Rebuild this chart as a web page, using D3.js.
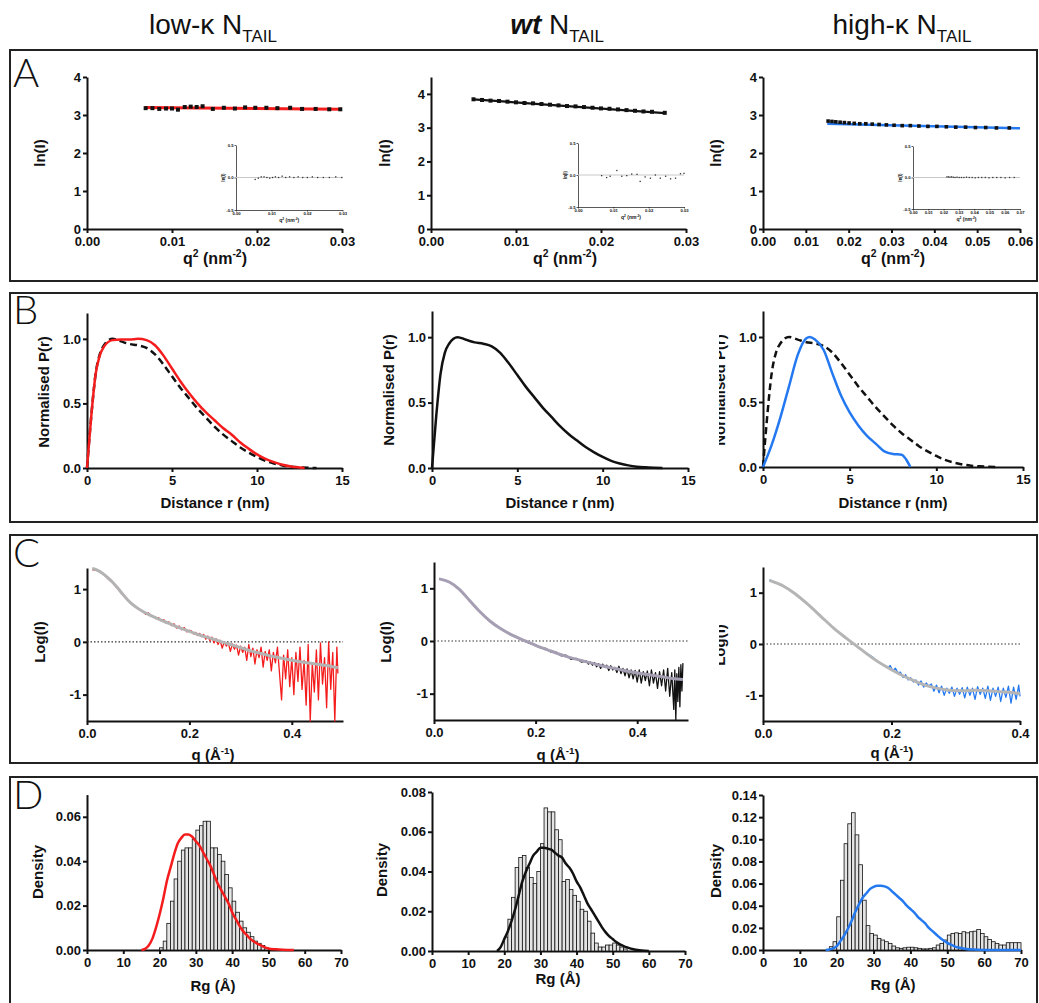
<!DOCTYPE html>
<html>
<head>
<meta charset="utf-8">
<script src="https://cdn.jsdelivr.net/npm/d3@7"></script>
<style>
  body { margin: 0; background: #fff; }
</style>
</head>
<body>
<svg id="fig" width="1039" height="1003"></svg>
<script>
'use strict';

// ---- column titles
var titles = [
  {pre: "low-κ N", it: false},
  {pre: "wt", it: true},
  {pre: "high-κ N", it: false}
];

// ---- row A : Guinier plots  (q^2, ln I)
var a1Q  = [0.0069,0.0077,0.0085,0.0093,0.0100,0.0107,0.0115,0.0122,0.0129,0.0136,0.0148,0.0161,0.0174,0.0186,0.0198,0.0211,0.0224,0.0239,0.0253,0.0269,0.0285,0.0298];
var a1Ln = [3.18,3.18,3.16,3.17,3.17,3.14,3.21,3.22,3.21,3.23,3.16,3.19,3.17,3.20,3.19,3.19,3.18,3.19,3.16,3.16,3.15,3.15];
var a1Fit = [[0.0068,3.20],[0.030,3.15]];
var a1ResQ = [0.0054,0.0063,0.0071,0.0079,0.0087,0.0095,0.0103,0.0111,0.0120,0.0130,0.0140,0.0151,0.0163,0.0175,0.0188,0.0201,0.0215,0.0230,0.0246,0.0263,0.0281,0.0298];
var a1Res  = [-0.03,-0.01,0.01,0.01,0.0,-0.01,0.0,0.01,0.0,0.02,0.0,0.01,0.0,0.01,0.0,0.0,0.01,0.0,0.0,0.0,0.01,0.0];

var a2Q  = [0.005,0.006,0.007,0.008,0.009,0.010,0.011,0.012,0.013,0.014,0.015,0.016,0.017,0.018,0.019,0.020,0.021,0.022,0.023,0.024,0.025,0.026,0.0275];
var a2Ln = [3.84,3.82,3.80,3.79,3.77,3.75,3.73,3.72,3.70,3.68,3.66,3.64,3.63,3.61,3.59,3.57,3.56,3.54,3.52,3.50,3.48,3.47,3.44];
var a2Fit = [[0.005,3.84],[0.0275,3.43]];
var a2ResQ = [0.0067,0.0081,0.0091,0.0110,0.0124,0.0138,0.0152,0.0167,0.0176,0.0190,0.0205,0.0219,0.0233,0.0248,0.0262,0.0276,0.0290,0.0300];
var a2Res  = [-0.01,-0.04,-0.02,0.07,-0.02,-0.01,0.015,0.01,-0.10,-0.03,-0.05,0.0,-0.05,-0.02,-0.06,-0.05,0.02,0.025];

var a3Q  = [0.0152,0.0161,0.0170,0.0180,0.0190,0.0201,0.0213,0.0226,0.0240,0.0255,0.0271,0.0288,0.0306,0.0325,0.0344,0.0364,0.0385,0.0406,0.0428,0.0450,0.0473,0.0496,0.0520,0.0545,0.0575];
var a3Ln = [2.84,2.83,2.82,2.81,2.80,2.79,2.78,2.77,2.77,2.76,2.75,2.74,2.73,2.72,2.72,2.71,2.70,2.70,2.69,2.68,2.68,2.67,2.67,2.66,2.66];
var a3Fit = [[0.015,2.77],[0.060,2.65]];
var a3ResQ = [0.0222,0.0232,0.0242,0.0252,0.0263,0.0275,0.0288,0.0302,0.0317,0.0333,0.0350,0.0368,0.0387,0.0407,0.0428,0.0450,0.0473,0.0497,0.0522,0.0548,0.0575,0.0603,0.0632,0.0662];
var a3Res  = [0.01,0.01,0.005,0.01,0.005,0.0,0.005,0.0,0.0,0.0,0.005,0.0,0.0,-0.005,0.0,0.0,0.0,-0.005,0.0,0.0,0.0,-0.005,0.0,0.0];

// ---- row B : normalised P(r)  (r nm, P)
var prWt = [[0,0],[0.25,0.40],[0.5,0.72],[0.75,0.88],[1,0.95],[1.5,1.0],[2,0.98],[2.5,0.96],[3,0.95],[3.5,0.93],[4,0.88],[4.5,0.80],[5,0.71],[5.5,0.62],[6,0.54],[6.5,0.46],[7,0.39],[7.5,0.32],[8,0.26],[8.5,0.21],[9,0.16],[9.5,0.12],[10,0.085],[10.5,0.055],[11,0.035],[11.5,0.02],[12,0.01],[12.5,0.005],[13,0.002],[13.5,0]];
var prLow = [[0,0],[0.25,0.40],[0.5,0.72],[0.75,0.87],[1,0.94],[1.5,0.99],[2,0.995],[2.5,0.995],[3,1.0],[3.5,0.99],[4,0.95],[4.5,0.87],[5,0.77],[5.5,0.67],[6,0.58],[6.5,0.50],[7,0.43],[7.5,0.37],[8,0.31],[8.5,0.26],[9,0.20],[9.5,0.15],[10,0.105],[10.5,0.07],[11,0.045],[11.5,0.025],[12,0.012],[12.5,0.004],[12.8,0]];
var prHigh = [[0,0],[0.5,0.17],[1,0.38],[1.5,0.62],[2,0.86],[2.5,0.99],[2.7,1.0],[3,0.98],[3.5,0.90],[4,0.72],[4.5,0.55],[5,0.42],[5.5,0.32],[6,0.24],[6.5,0.18],[7,0.12],[7.5,0.10],[8,0.095],[8.25,0.06],[8.5,0]];

// ---- row C : scattering curves (q 1/A, log I) and model fits
var c1Data = [[0.010,1.37],[0.020,1.35],[0.030,1.30],[0.040,1.21],[0.050,1.12],[0.060,1.01],[0.070,0.91],[0.080,0.80],[0.090,0.71],[0.100,0.63],
  [0.105,0.61],[0.110,0.57],[0.115,0.52],[0.120,0.55],[0.125,0.50],[0.130,0.48],[0.135,0.44],[0.140,0.46],[0.145,0.40],[0.150,0.42],
  [0.155,0.35],[0.160,0.38],[0.165,0.31],[0.170,0.34],[0.175,0.26],[0.180,0.30],[0.185,0.23],[0.190,0.27],[0.195,0.19],[0.200,0.22],
  [0.204,0.21],[0.208,0.15],[0.212,0.18],[0.216,0.12],[0.220,0.16],[0.224,0.10],[0.228,0.14],[0.232,0.05],[0.236,0.11],[0.240,0.02],
  [0.244,0.09],[0.248,-0.02],[0.252,0.06],[0.256,-0.05],[0.260,0.03],[0.264,-0.12],[0.268,0.00],[0.272,-0.08],[0.276,-0.02],[0.280,-0.18],
  [0.284,-0.04],[0.288,-0.14],[0.292,-0.06],[0.296,-0.25],[0.300,-0.08],[0.304,-0.20],[0.308,-0.10],[0.312,-0.35],[0.316,-0.05],[0.320,-0.28],
  [0.324,-0.12],[0.328,-0.42],[0.332,-0.15],[0.336,-0.30],[0.340,-0.10],[0.344,-0.48],[0.348,-0.18],[0.352,-0.35],[0.356,-0.15],[0.360,-0.55],
  [0.364,-0.20],[0.368,-0.40],[0.372,-0.10],[0.376,-0.60],[0.380,-1.10],[0.384,-0.25],[0.388,-0.70],[0.392,-0.15],[0.396,-0.85],[0.400,-0.30],
  [0.404,-1.00],[0.408,-0.20],[0.412,-0.75],[0.416,-0.10],[0.420,-0.90],[0.424,-0.35],[0.428,-1.20],[0.432,-0.05],[0.436,-1.50],[0.440,-0.40],
  [0.444,-0.95],[0.448,-0.15],[0.452,-1.10],[0.456,-0.02],[0.460,-0.80],[0.464,-0.30],[0.468,-1.25],[0.472,0.00],[0.476,-0.90],[0.480,-0.20],
  [0.484,-1.50],[0.488,-0.10],[0.490,-0.60]];
var c1Fit = [[0.01,1.39],[0.02,1.36],[0.03,1.30],[0.04,1.22],[0.05,1.13],[0.06,1.02],[0.07,0.90],[0.08,0.79],[0.09,0.70],[0.10,0.63],[0.12,0.52],[0.14,0.43],[0.16,0.35],[0.18,0.27],[0.20,0.20],[0.22,0.13],[0.24,0.07],[0.26,0.01],[0.28,-0.05],[0.30,-0.11],[0.32,-0.17],[0.34,-0.22],[0.36,-0.27],[0.38,-0.31],[0.40,-0.35],[0.42,-0.38],[0.44,-0.41],[0.46,-0.44],[0.48,-0.47],[0.49,-0.49]];

var c2Data = [[0.01,1.18],[0.02,1.16],[0.03,1.12],[0.04,1.06],[0.05,0.98],[0.06,0.88],[0.07,0.77],[0.08,0.66],[0.09,0.56],[0.10,0.47],
  [0.11,0.38],[0.12,0.31],[0.13,0.24],[0.14,0.18],[0.15,0.13],[0.16,0.08],[0.17,0.04],[0.18,-0.01],[0.19,-0.05],[0.20,-0.07],
  [0.21,-0.13],[0.22,-0.14],[0.23,-0.21],[0.24,-0.21],[0.25,-0.28],[0.26,-0.27],[0.27,-0.35],[0.28,-0.33],[0.29,-0.40],[0.30,-0.38],
  [0.304,-0.44],[0.308,-0.40],[0.312,-0.46],[0.316,-0.41],[0.320,-0.49],[0.324,-0.43],[0.328,-0.52],[0.332,-0.44],[0.336,-0.50],[0.340,-0.46],
  [0.344,-0.56],[0.348,-0.47],[0.352,-0.55],[0.356,-0.50],[0.360,-0.60],[0.364,-0.48],[0.368,-0.62],[0.372,-0.52],[0.376,-0.66],[0.380,-0.53],
  [0.384,-0.70],[0.388,-0.55],[0.392,-0.72],[0.396,-0.56],[0.400,-0.78],[0.404,-0.55],[0.408,-0.80],[0.412,-0.58],[0.416,-0.75],[0.420,-0.57],
  [0.424,-0.85],[0.428,-0.55],[0.432,-0.80],[0.436,-0.60],[0.440,-0.90],[0.444,-0.58],[0.448,-0.85],[0.452,-0.55],[0.456,-0.95],[0.460,-0.52],
  [0.464,-1.05],[0.468,-0.60],[0.472,-1.30],[0.474,-0.55],[0.476,-1.50],[0.478,-0.62],[0.480,-1.15],[0.482,-0.50],[0.484,-1.25],[0.486,-0.45],
  [0.488,-0.95],[0.490,-0.42]];
var c2Fit = [[0.01,1.18],[0.03,1.12],[0.05,0.98],[0.07,0.77],[0.09,0.56],[0.11,0.38],[0.13,0.24],[0.15,0.13],[0.17,0.04],[0.19,-0.04],[0.21,-0.12],[0.23,-0.19],[0.25,-0.26],[0.27,-0.32],[0.29,-0.37],[0.31,-0.42],[0.33,-0.47],[0.35,-0.51],[0.37,-0.55],[0.39,-0.59],[0.41,-0.62],[0.43,-0.65],[0.45,-0.68],[0.47,-0.71],[0.49,-0.73]];

var c3Data = [[0.01,1.25],[0.02,1.20],[0.03,1.15],[0.04,1.07],[0.05,0.98],[0.06,0.88],[0.07,0.77],[0.08,0.66],[0.09,0.54],[0.10,0.42],
  [0.11,0.31],[0.12,0.21],[0.13,0.11],[0.14,0.01],[0.15,-0.09],[0.16,-0.17],[0.17,-0.25],[0.18,-0.36],[0.19,-0.42],
  [0.194,-0.47],[0.198,-0.42],[0.202,-0.52],[0.206,-0.47],[0.210,-0.56],[0.214,-0.55],[0.218,-0.65],[0.222,-0.60],[0.226,-0.70],[0.230,-0.66],
  [0.234,-0.74],[0.238,-0.70],[0.242,-0.80],[0.246,-0.72],[0.250,-0.84],[0.254,-0.76],[0.258,-0.82],[0.262,-0.78],[0.266,-0.92],[0.270,-0.80],
  [0.274,-0.95],[0.278,-0.82],[0.282,-1.00],[0.286,-0.86],[0.290,-0.96],[0.294,-0.84],[0.298,-1.02],[0.302,-0.86],[0.306,-0.98],[0.310,-0.85],
  [0.314,-1.05],[0.318,-0.84],[0.322,-1.00],[0.326,-0.86],[0.330,-1.08],[0.334,-0.83],[0.338,-0.98],[0.342,-0.86],[0.346,-1.06],[0.350,-0.82],
  [0.354,-1.10],[0.358,-0.86],[0.362,-1.02],[0.366,-0.84],[0.370,-1.12],[0.374,-0.86],[0.378,-1.04],[0.382,-0.82],[0.386,-1.15],[0.390,-0.84],
  [0.394,-1.08],[0.398,-0.80],[0.400,-1.02]];
var c3Fit = [[0.01,1.24],[0.03,1.14],[0.05,0.98],[0.07,0.77],[0.09,0.54],[0.11,0.31],[0.13,0.11],[0.15,-0.08],[0.17,-0.27],[0.19,-0.43],[0.21,-0.57],[0.23,-0.69],[0.25,-0.79],[0.27,-0.86],[0.29,-0.90],[0.31,-0.91],[0.33,-0.90],[0.35,-0.91],[0.37,-0.93],[0.39,-0.95],[0.40,-0.97]];

// ---- row D : Rg distributions (1 A bins) and fitted densities
var d1Start = 20;
var d1Hist = [0.001,0.004,0.012,0.022,0.032,0.040,0.045,0.046,0.046,0.050,0.054,0.056,0.058,0.058,0.046,0.046,0.043,0.040,0.034,0.028,0.022,0.017,0.013,0.010,0.008,0.006,0.004,0.003,0.002,0.001,0.0005];
var d1Curve = [[15,0],[16,0.0005],[17,0.002],[18,0.005],[19,0.010],[20,0.016],[21,0.023],[22,0.031],[23,0.037],[24,0.043],[25,0.048],[26,0.0505],[27,0.052],[28,0.052],[29,0.051],[30,0.049],[31,0.047],[32,0.044],[33,0.041],[34,0.038],[35,0.034],[36,0.030],[37,0.027],[38,0.024],[39,0.021],[40,0.017],[41,0.014],[42,0.011],[43,0.0085],[44,0.0068],[45,0.005],[46,0.0038],[47,0.0028],[48,0.002],[49,0.0012],[50,0.0007],[52,0.0003],[54,0.0001],[57,0]];

var d2Start = 20;
var d2Hist = [0.007,0.016,0.027,0.042,0.047,0.048,0.042,0.037,0.034,0.040,0.054,0.072,0.070,0.070,0.061,0.056,0.035,0.036,0.031,0.028,0.025,0.021,0.020,0.015,0.009,0.004,0.002,0.002,0.003,0.003,0.004,0.003,0.002,0.001];
var d2Curve = [[18,0],[19,0.002],[20,0.006],[21,0.010],[22,0.015],[23,0.021],[24,0.028],[25,0.035],[26,0.040],[27,0.044],[28,0.048],[29,0.050],[30,0.052],[31,0.052],[32,0.0515],[33,0.051],[34,0.0495],[35,0.048],[36,0.047],[37,0.044],[38,0.042],[39,0.039],[40,0.035],[41,0.032],[42,0.028],[43,0.024],[44,0.021],[45,0.018],[46,0.015],[47,0.012],[48,0.0095],[49,0.0075],[50,0.006],[51,0.0045],[52,0.0033],[53,0.0025],[54,0.0018],[55,0.0012],[56,0.0008],[58,0.0003],[60,0]];

var d3Start = 18;
var d3Hist = [0.003,0.0075,0.030,0.063,0.096,0.114,0.124,0.104,0.077,0.045,0.022,0.015,0.0135,0.0105,0.009,0.0075,0.006,0.0036,0.002,0.0015,0.002,0.0025,0.0025,0.002,0.0015,0.001,0.001,0.0015,0.002,0.0045,0.006,0.009,0.0135,0.015,0.0155,0.015,0.0165,0.0155,0.0165,0.017,0.0185,0.015,0.012,0.0095,0.0075,0.006,0.0045,0.0045,0.0066,0.0066,0.0066,0.0066];
var d3Curve = [[17,0],[18,0.0005],[19,0.0015],[20,0.0035],[21,0.008],[22,0.013],[23,0.019],[24,0.026],[25,0.034],[26,0.041],[27,0.047],[28,0.051],[29,0.055],[30,0.057],[31,0.058],[32,0.058],[33,0.0575],[34,0.056],[35,0.053],[36,0.050],[37,0.047],[38,0.044],[39,0.040],[40,0.037],[41,0.034],[42,0.030],[43,0.027],[44,0.024],[45,0.020],[46,0.017],[47,0.014],[48,0.011],[49,0.0085],[50,0.0065],[51,0.0048],[52,0.0033],[53,0.0022],[54,0.0015],[55,0.001],[57,0.0004],[60,0.0001],[70,0]];

// ---- tick values
var aYTicks = [0,1,2,3,4];
var aXTicks3 = [0,0.01,0.02,0.03];
var aXTicks6 = [0,0.01,0.02,0.03,0.04,0.05,0.06];
var insYTicks = [-0.5,0,0.5];
var insXTicks7 = [0,0.01,0.02,0.03,0.04,0.05,0.06,0.07];
var bXTicks = [0,5,10,15];
var bYTicks = [0,0.5,1.0];
var cXTicks = [0,0.2,0.4];
var cYTicks = [-1,0,1];
var dXTicks = [0,10,20,30,40,50,60,70];

var RED = "#f41c1c", BLUE = "#2479f0", INK = "#111";
var FONT = "'Liberation Sans', Arial, Helvetica, sans-serif";

var svg = d3.select("#fig");
var f0 = function(d){ return String(d); };
var f1 = function(d){ return d.toFixed(1); };
var f2 = function(d){ return d.toFixed(2); };

function styleAxis(a, sw, fs) {
  a.attr("font-family", FONT).attr("font-size", fs).attr("font-weight", "bold");
  a.selectAll("path.domain").attr("stroke", INK).attr("stroke-width", sw);
  a.selectAll(".tick line").attr("stroke", INK).attr("stroke-width", sw);
  a.selectAll(".tick text").attr("fill", INK);
}

function panel(p) {
  var x = d3.scaleLinear().domain(p.xd).range(p.xr);
  var y = d3.scaleLinear().domain(p.yd).range(p.yr);
  var sw = p.small ? 0.7 : 2, fs = p.small ? 4.2 : 13, ts = p.small ? 1.5 : 4, pad = p.small ? 1 : 2;
  var g = svg.append("g");
  var ax = g.append("g").attr("transform", "translate(0," + p.yr[0] + ")")
    .call(d3.axisBottom(x).tickValues(p.xt).tickFormat(p.xf).tickSize(ts).tickPadding(p.small ? 1 : 4).tickSizeOuter(0));
  var ay = g.append("g").attr("transform", "translate(" + p.xr[0] + ",0)")
    .call(d3.axisLeft(y).tickValues(p.yt).tickFormat(p.yf).tickSize(ts).tickPadding(pad).tickSizeOuter(0));
  styleAxis(ax, sw, fs);
  styleAxis(ay, sw, fs);
  return {g: g, x: x, y: y};
}

// text with superscripts: parts = [[string, isSup], ...]
function rich(x, y, parts, fs, rot, parent) {
  var t = (parent || svg).append("text").attr("x", x).attr("y", y).attr("text-anchor", "middle")
    .attr("font-family", FONT).attr("font-weight", "bold").attr("font-size", fs).attr("fill", INK);
  if (rot) t.attr("transform", "rotate(-90," + x + "," + y + ")");
  var shift = 0;
  parts.forEach(function(pt) {
    var want = pt[1] ? -fs * 0.42 : 0;
    t.append("tspan").attr("dy", want - shift).attr("font-size", pt[1] ? fs * 0.65 : fs).text(pt[0]);
    shift = want;
  });
  return t;
}

function curve(P, data, color, w, dash, smooth) {
  var line = d3.line().x(function(d){ return P.x(d[0]); }).y(function(d){ return P.y(d[1]); });
  if (smooth) line.curve(d3.curveMonotoneX);
  var path = P.g.append("path").datum(data).attr("d", line).attr("fill", "none")
    .attr("stroke", color).attr("stroke-width", w).attr("stroke-linejoin", "round");
  if (dash) path.attr("stroke-dasharray", dash);
  return path;
}

function squares(P, qs, vs, size, color) {
  P.g.append("g").selectAll("rect").data(qs).join("rect")
    .attr("x", function(d){ return P.x(d) - size / 2; })
    .attr("y", function(d, i){ return P.y(vs[i]) - size / 2; })
    .attr("width", size).attr("height", size).attr("fill", color);
}

function zeroLine(P, color, w, dash) {
  var xs = P.x.range();
  var l = P.g.append("line").attr("x1", xs[0]).attr("x2", xs[1])
    .attr("y1", P.y(0)).attr("y2", P.y(0)).attr("stroke", color).attr("stroke-width", w);
  if (dash) l.attr("stroke-dasharray", dash);
}

function histogram(P, start, vals) {
  P.g.append("g").selectAll("rect").data(vals).join("rect")
    .attr("x", function(d, i){ return P.x(start + i); })
    .attr("width", function(d, i){ return P.x(start + i + 1) - P.x(start + i); })
    .attr("y", function(d){ return P.y(d); })
    .attr("height", function(d){ return P.y(0) - P.y(d); })
    .attr("fill", "#e4e4e4").attr("stroke", INK).attr("stroke-width", 0.8);
}

// ---- frames and row letters
var rows = [[50, 281, "A", 87], [293, 522, "B", 324], [535, 763, "C", 567], [777, 1012, "D", 809]];
rows.forEach(function(r) {
  svg.append("rect").attr("x", 10).attr("y", r[0]).attr("width", 1027).attr("height", r[1] - r[0])
    .attr("fill", "none").attr("stroke", "#222").attr("stroke-width", 2);
  svg.append("text").attr("x", 13).attr("y", r[3]).text(r[2])
    .attr("font-family", "Lato, " + FONT).attr("font-weight", 300).attr("font-size", 40).attr("fill", INK);
});

// ---- column titles
[213, 557, 902].forEach(function(cx, i) {
  var t = svg.append("text").attr("x", cx).attr("y", 34).attr("text-anchor", "middle")
    .attr("font-family", FONT).attr("font-size", 28).attr("fill", INK);
  if (titles[i].it) {
    t.append("tspan").attr("font-style", "italic").attr("font-weight", "bold").text(titles[i].pre);
    t.append("tspan").text(" N");
  } else {
    t.append("tspan").text(titles[i].pre);
  }
  t.append("tspan").attr("font-size", 17).attr("dy", 8).text("TAIL");
});

// ---- row A
var qLab = [["q", 0], ["2", 1], [" (nm", 0], ["-2", 1], [")", 0]];
var A1 = panel({xr: [87, 342], yr: [229, 77], xd: [0, 0.03], yd: [0, 4], xt: aXTicks3, yt: aYTicks, xf: f2, yf: f0});
curve(A1, a1Fit, RED, 3);
squares(A1, a1Q, a1Ln, 4, INK);
var A2 = panel({xr: [431, 686], yr: [229, 77], xd: [0, 0.03], yd: [0, 4.5], xt: aXTicks3, yt: aYTicks, xf: f2, yf: f0});
curve(A2, a2Fit, INK, 2.2);
squares(A2, a2Q, a2Ln, 4, INK);
var A3 = panel({xr: [763, 1020], yr: [229, 77], xd: [0, 0.06], yd: [0, 4], xt: aXTicks6, yt: aYTicks, xf: f2, yf: f0});
curve(A3, a3Fit, BLUE, 2.5);
squares(A3, a3Q, a3Ln, 3.6, INK);
rich(215, 264, qLab, 16);
rich(565, 264, qLab, 16);
rich(893, 264, qLab, 16);
[45, 390, 721].forEach(function(x){ rich(x, 153, [["ln(I)", 0]], 15, true); });

// insets (Guinier residuals)
var insets = [
  {xr: [236, 342.5], yr: [210, 145], xt: aXTicks3, xd: [0, 0.03], q: a1ResQ, r: a1Res},
  {xr: [578, 684], yr: [207, 143], xt: aXTicks3, xd: [0, 0.03], q: a2ResQ, r: a2Res},
  {xr: [913, 1020], yr: [209, 146], xt: insXTicks7, xd: [0, 0.07], q: a3ResQ, r: a3Res}
];
insets.forEach(function(s) {
  var P = panel({xr: s.xr, yr: s.yr, xd: s.xd, yd: [-0.5, 0.5], xt: s.xt, yt: insYTicks, xf: f2, yf: f1, small: true});
  zeroLine(P, "#c8c8c8", 1);
  squares(P, s.q, s.r, 1.3, "#333");
  rich((s.xr[0] + s.xr[1]) / 2, s.yr[0] + 12, qLab, 5);
  rich(s.xr[0] - 11, (s.yr[0] + s.yr[1]) / 2, [["ln(I)", 0]], 4.5, true);
});

// ---- row B
var B1 = panel({xr: [87, 342], yr: [468, 313], xd: [0, 15], yd: [0, 1.2], xt: bXTicks, yt: bYTicks, xf: f0, yf: f1});
curve(B1, prWt, INK, 2.5, "7,4", true);
curve(B1, prLow, RED, 2.5, null, true);
var B2 = panel({xr: [432, 688], yr: [468, 311], xd: [0, 15], yd: [0, 1.2], xt: bXTicks, yt: bYTicks, xf: f0, yf: f1});
curve(B2, prWt, INK, 2.5, null, true);
var B3 = panel({xr: [763, 1023], yr: [467, 311], xd: [0, 15], yd: [0, 1.2], xt: bXTicks, yt: bYTicks, xf: f0, yf: f1});
curve(B3, prWt, INK, 2.5, "7,4", true);
curve(B3, prHigh, BLUE, 2.5, null, true);
[215, 560, 893].forEach(function(x){ rich(x, 508, [["Distance r (nm)", 0]], 15); });
rich(49, 392, [["Normalised P(r)", 0]], 15, true);
rich(394, 390, [["Normalised P(r)", 0]], 15, true);

// the third-column y titles of rows B and C are half hidden in the figure
var clip = svg.append("defs").append("clipPath").attr("id", "halfcut");
clip.append("rect").attr("x", 719).attr("y", 290).attr("width", 18).attr("height", 480);
var cut = svg.append("g").attr("clip-path", "url(#halfcut)");
rich(725, 390, [["Normalised P(r)", 0]], 15, true, cut);
rich(725, 645, [["Log(I)", 0]], 15, true, cut);

// ---- row C
var C1 = panel({xr: [87, 343], yr: [721, 568], xd: [0, 0.5], yd: [-1.5, 1.4], xt: cXTicks, yt: cYTicks, xf: f1, yf: f0});
zeroLine(C1, "#333", 1.2, "1.5,2");
curve(C1, c1Data, RED, 1.3);
curve(C1, c1Fit, "#b3b3b3", 3, null, true);
var C2 = panel({xr: [434, 688], yr: [720, 562], xd: [0, 0.5], yd: [-1.5, 1.5], xt: cXTicks, yt: cYTicks, xf: f1, yf: f0});
zeroLine(C2, "#333", 1.2, "1.5,2");
curve(C2, c2Data, INK, 1.3);
curve(C2, c2Fit, "#a69eb3", 3, null, true);
var C3 = panel({xr: [763, 1020], yr: [721, 567], xd: [0, 0.4], yd: [-1.5, 1.5], xt: cXTicks, yt: cYTicks, xf: f1, yf: f0});
zeroLine(C3, "#333", 1.2, "1.5,2");
curve(C3, c3Data, BLUE, 1.3);
curve(C3, c3Fit, "#b5b5b5", 3, null, true);
var cLab = [["q (Å", 0], ["-1", 1], [")", 0]];
rich(213, 760, cLab, 15);
rich(558, 760, cLab, 15);
rich(892, 758, cLab, 15);
rich(45, 642, [["Log(I)", 0]], 15, true);
rich(391, 642, [["Log(I)", 0]], 15, true);

// ---- row D
var D1 = panel({xr: [87, 341], yr: [950, 794.6], xd: [0, 70], yd: [0, 0.07], xt: dXTicks, yt: [0, 0.02, 0.04, 0.06], xf: f0, yf: f2});
histogram(D1, d1Start, d1Hist);
curve(D1, d1Curve, RED, 2.5, null, true);
var D2 = panel({xr: [432, 685], yr: [951, 792], xd: [0, 70], yd: [0, 0.08], xt: dXTicks, yt: [0, 0.02, 0.04, 0.06, 0.08], xf: f0, yf: f2});
histogram(D2, d2Start, d2Hist);
curve(D2, d2Curve, INK, 2.5, null, true);
var D3 = panel({xr: [763, 1021], yr: [950, 795], xd: [0, 70], yd: [0, 0.14], xt: dXTicks, yt: [0, 0.02, 0.04, 0.06, 0.08, 0.10, 0.12, 0.14], xf: f0, yf: f2});
histogram(D3, d3Start, d3Hist);
curve(D3, d3Curve, BLUE, 2.5, null, true);
rich(213, 991, [["Rg (Å)", 0]], 15);
rich(558, 984, [["Rg (Å)", 0]], 15);
rich(893, 990, [["Rg (Å)", 0]], 15);
rich(43, 872, [["Density", 0]], 15, true);
rich(387, 870, [["Density", 0]], 15, true);
rich(721, 871, [["Density", 0]], 15, true);
</script>
</body>
</html>
